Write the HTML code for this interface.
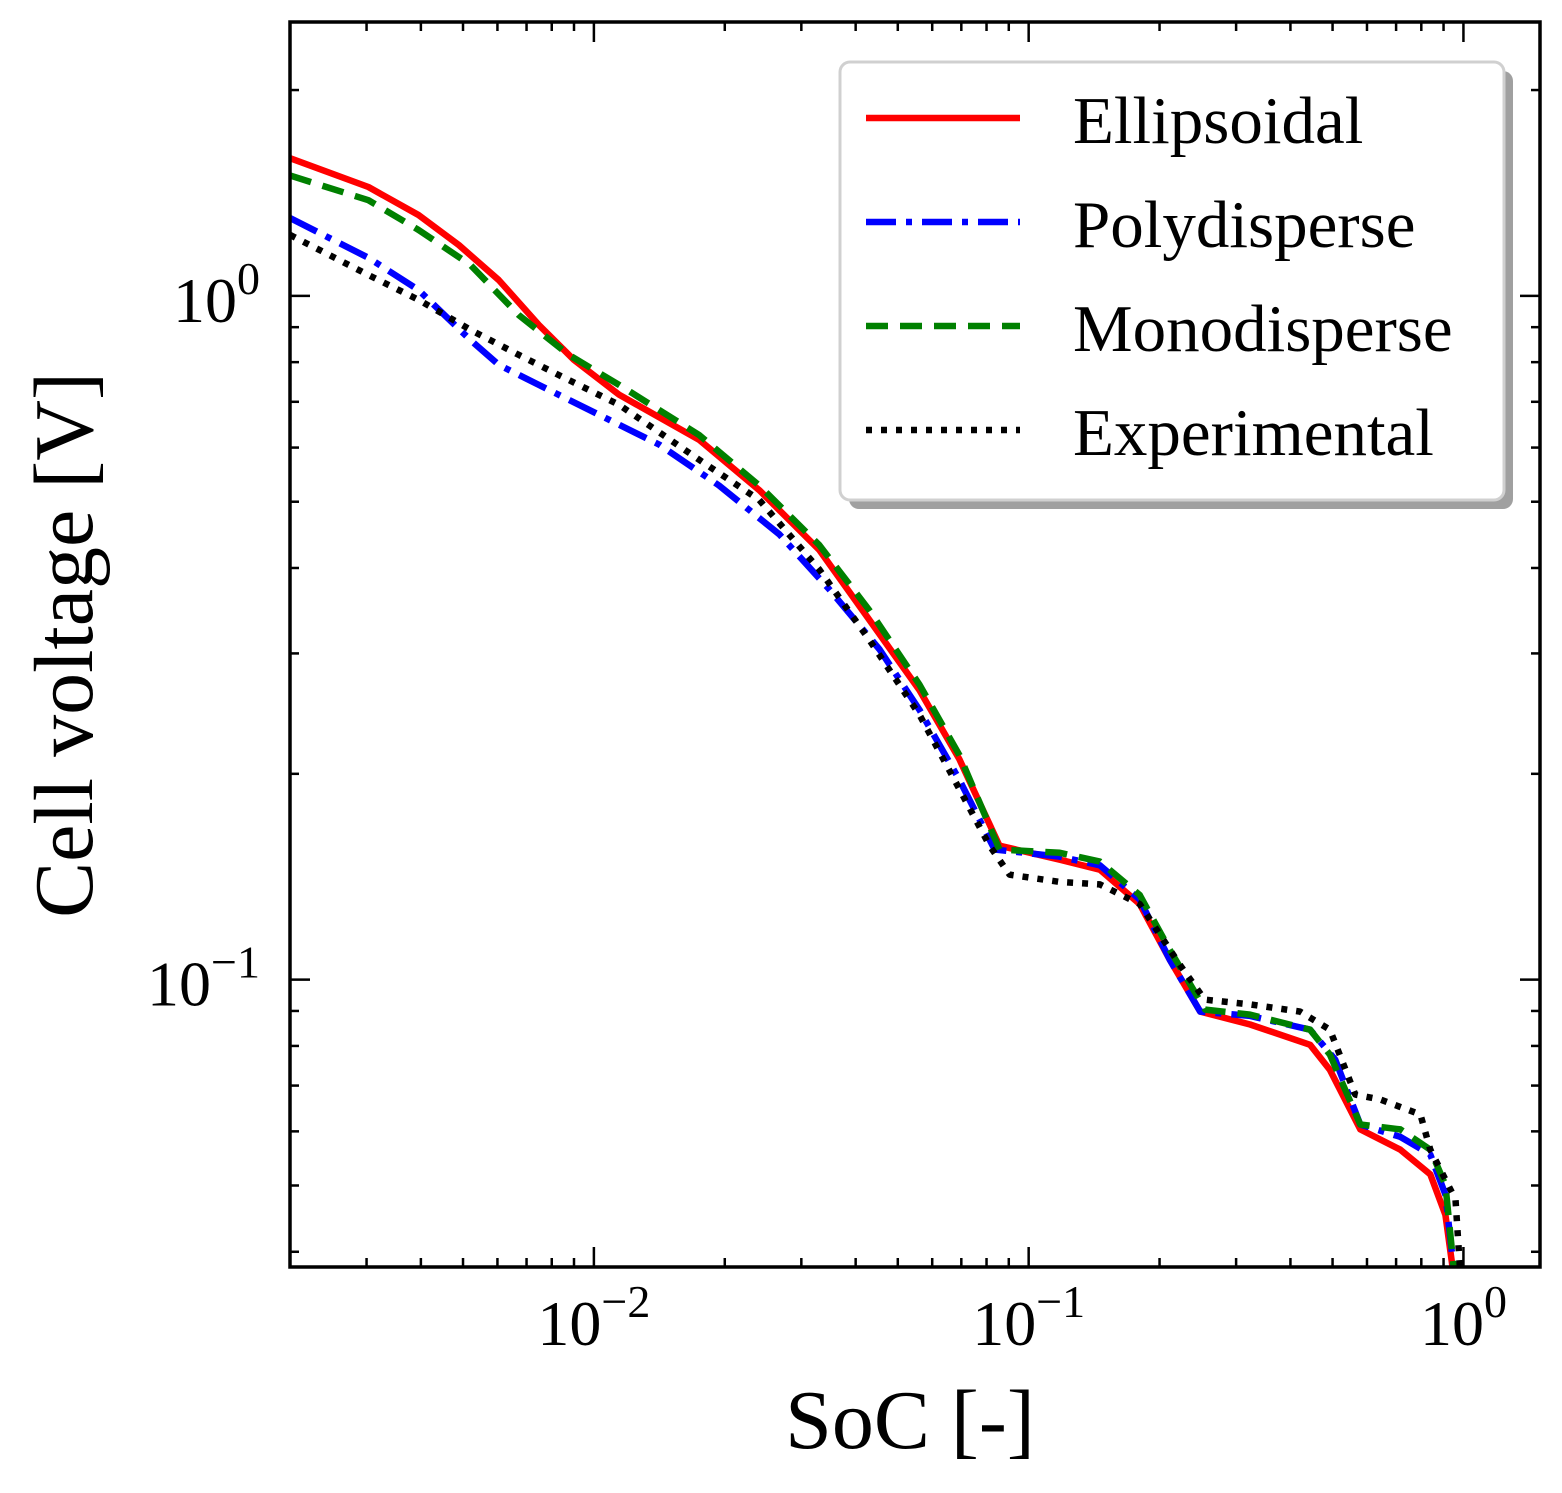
<!DOCTYPE html>
<html><head><meta charset="utf-8"><style>
body{margin:0;background:#fff;}
svg text{font-family:"Liberation Serif","DejaVu Serif",serif;fill:#000;}
</style></head><body>
<svg id="chart" width="1562" height="1488" viewBox="0 0 1562 1488" xmlns="http://www.w3.org/2000/svg">
<defs><clipPath id="plotclip"><rect x="290" y="22" width="1250" height="1245"/></clipPath></defs>
<g id="series" clip-path="url(#plotclip)"></g>
<rect x="290" y="22" width="1250" height="1245" fill="none" stroke="#000" stroke-width="3.5"/>
<g id="ticks"></g>
<text x="910" y="1448" font-size="84" text-anchor="middle">SoC [-]</text>
<text transform="translate(92,645) rotate(-90)" font-size="84" text-anchor="middle">Cell voltage [V]</text>
<g>
<rect x="849" y="71" width="664" height="438" rx="10" fill="#a0a0a0"/>
<rect x="840" y="62" width="664" height="438" rx="10" fill="#fff" stroke="#d0d0d0" stroke-width="3"/>
<g><line x1="866" y1="118" x2="1020" y2="118" stroke="#ff0000" stroke-width="6.5"/><text x="1073" y="143" font-size="67">Ellipsoidal</text></g>
<g><line x1="866" y1="222" x2="1020" y2="222" stroke="#0000ff" stroke-width="6.5" stroke-dasharray="30,10,6,10"/><text x="1073" y="247" font-size="67">Polydisperse</text></g>
<g><line x1="866" y1="326" x2="1020" y2="326" stroke="#008000" stroke-width="6.5" stroke-dasharray="22,12"/><text x="1073" y="351" font-size="67">Monodisperse</text></g>
<g><line x1="866" y1="430" x2="1020" y2="430" stroke="#000" stroke-width="6.5" stroke-dasharray="6,9"/><text x="1073" y="455" font-size="67">Experimental</text></g>
</g>
</svg>
<script>
const ellSoc=[0.002,0.00303,0.00395,0.00489,0.00604,0.00747,0.0090,0.01143,0.01746,0.024,0.033,0.043,0.0561,0.0693,0.0857,0.1179,0.1458,0.180,0.211,0.248,0.323,0.444,0.493,0.579,0.716,0.839,0.909,0.949];
const ellV=[1.59,1.443,1.313,1.187,1.055,0.907,0.806,0.717,0.616,0.520,0.425,0.336,0.265,0.210,0.157,0.1498,0.1448,0.129,0.107,0.0898,0.086,0.0803,0.0738,0.0604,0.0564,0.0519,0.0453,0.037];
const polySoc=[0.002,0.00303,0.00395,0.0052,0.00604,0.00747,0.01028,0.01413,0.0194,0.0267,0.0348,0.0454,0.0561,0.0693,0.0835,0.1179,0.1458,0.180,0.211,0.248,0.323,0.444,0.507,0.579,0.716,0.839,0.909,0.953];
const polyV=[1.30,1.137,1.02,0.862,0.793,0.741,0.670,0.606,0.528,0.448,0.372,0.304,0.248,0.196,0.155,0.1513,0.147,0.131,0.107,0.0898,0.0885,0.0845,0.0764,0.0614,0.0589,0.0555,0.0485,0.037];
const monoSoc=[0.002,0.00303,0.00395,0.0052,0.00671,0.00875,0.01143,0.01746,0.024,0.033,0.043,0.0561,0.0693,0.0857,0.1179,0.1458,0.180,0.211,0.2547,0.323,0.444,0.493,0.579,0.716,0.839,0.909,0.953];
const monoV=[1.50,1.38,1.249,1.11,0.938,0.820,0.741,0.626,0.528,0.432,0.347,0.270,0.213,0.155,0.1533,0.1488,0.133,0.1106,0.0904,0.0889,0.0845,0.0777,0.0614,0.0604,0.0564,0.0501,0.037];
const expSoc=[0.002,0.00303,0.00395,0.0052,0.00671,0.0083,0.01143,0.01746,0.024,0.033,0.043,0.0561,0.0693,0.0813,0.0904,0.1179,0.1458,0.180,0.223,0.254,0.323,0.421,0.493,0.564,0.644,0.796,0.839,0.959,0.984];
const expV=[1.228,1.073,0.987,0.892,0.820,0.766,0.693,0.576,0.503,0.398,0.314,0.244,0.190,0.157,0.1424,0.139,0.1378,0.129,0.105,0.0935,0.0920,0.0898,0.0845,0.0679,0.0668,0.0635,0.0564,0.0477,0.037];
const xTickVals=[0.01,0.1,1];
const xTickLabels=["10","10","10"];
const xTickExps=["\u22122","\u22121","0"];
const yTickVals=[1,0.1];
const yTickExps=["0","\u22121"];

const X0=290,X1=1540,Y0=22,Y1=1267;
const xMin=Math.log10(0.002),xMax=Math.log10(1.5),yMin=Math.log10(0.038),yMax=Math.log10(2.515);
function sx(v){return X0+(Math.log10(v)-xMin)/(xMax-xMin)*(X1-X0);}
function sy(v){return Y1-(Math.log10(v)-yMin)/(yMax-yMin)*(Y1-Y0);}
const NS="http://www.w3.org/2000/svg";
const sg=document.getElementById('series');
function addSeries(xs,ys,color,dash,name){
  const p=document.createElementNS(NS,'path');
  let d='';
  for(let i=0;i<xs.length;i++)d+=(i?'L':'M')+sx(xs[i]).toFixed(1)+','+sy(ys[i]).toFixed(1);
  p.setAttribute('d',d);p.setAttribute('fill','none');p.setAttribute('stroke',color);
  p.setAttribute('stroke-width','6.5');p.setAttribute('stroke-linejoin','round');
  if(dash)p.setAttribute('stroke-dasharray',dash);
  
  
  sg.appendChild(p);
}
addSeries(ellSoc,ellV,'#ff0000',null,'ellipsoidal-line');
addSeries(polySoc,polyV,'#0000ff','30,10,6,10','polydisperse-line');
addSeries(monoSoc,monoV,'#008000','22,12','monodisperse-line');
addSeries(expSoc,expV,'#000000','6,9','experimental-line');

const tg=document.getElementById('ticks');
function ln(x1,y1,x2,y2){const l=document.createElementNS(NS,'line');l.setAttribute('x1',x1);l.setAttribute('y1',y1);l.setAttribute('x2',x2);l.setAttribute('y2',y2);l.setAttribute('stroke','#000');l.setAttribute('stroke-width','2.5');


tg.appendChild(l);}
for(let e=-3;e<=0;e++)for(let m=1;m<=9;m++){const v=m*Math.pow(10,e);const x=sx(v);if(x<X0+1||x>X1-1)continue;const L=m===1?20:9;ln(x,Y1,x,Y1-L);ln(x,Y0,x,Y0+L);}
for(let e=-2;e<=0;e++)for(let m=1;m<=9;m++){const v=m*Math.pow(10,e);const y=sy(v);if(y<Y0+1||y>Y1-1)continue;const L=m===1?20:9;ln(X0,y,X0+L,y);ln(X1,y,X1-L,y);}
function label(x,y,base,exp,anchor,name){
  const t=document.createElementNS(NS,'text');t.setAttribute('x',x);t.setAttribute('y',y);t.setAttribute('font-size','64');t.setAttribute('text-anchor',anchor);
  const a=document.createElementNS(NS,'tspan');a.textContent=base;t.appendChild(a);
  const b=document.createElementNS(NS,'tspan');b.textContent=exp;b.setAttribute('font-size','46');b.setAttribute('dy','-28');t.appendChild(b);
  
  
  tg.appendChild(t);
}
xTickVals.forEach((v,i)=>label(sx(v),1345,xTickLabels[i],xTickExps[i],'middle','x-tick-label'));
yTickVals.forEach((v,i)=>label(260,sy(v)+26,'10',yTickExps[i],'end','y-tick-label'));
</script>
</body></html>
